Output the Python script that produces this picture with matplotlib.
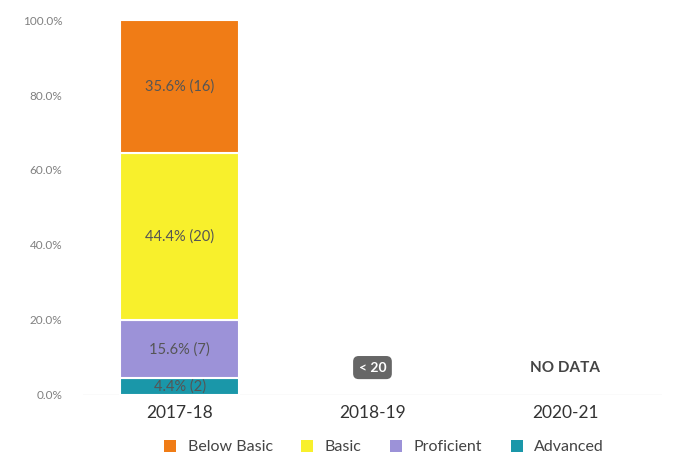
import matplotlib.pyplot as plt
from matplotlib.patches import Patch

plt.rcParams['font.family'] = ['Lato', 'DejaVu Sans']

# Data
years = ["2017-18", "2018-19", "2020-21"]
levels = ["Below Basic", "Basic", "Proficient", "Advanced"]
pct_2017 = [35.6, 44.4, 15.6, 4.4]
counts_2017 = [16, 20, 7, 2]
notes = [None, "< 20", "NO DATA"]

colors = {
    "Below Basic": "#F07C16",
    "Basic": "#F8F02C",
    "Proficient": "#9C92D8",
    "Advanced": "#1A97A9",
}

fig = plt.figure(figsize=(6.76, 4.55), dpi=100)
ax = fig.add_axes([0.123, 0.132, 0.856, 0.824])

# stack from bottom: Advanced, Proficient, Basic, Below Basic
bottom = 0
for lvl in reversed(levels):
    i = levels.index(lvl)
    v = pct_2017[i]
    ax.bar(0, v, bottom=bottom, width=0.62, color=colors[lvl],
           edgecolor="white", linewidth=1.5, zorder=2)
    ax.text(0, bottom + v / 2, f"{v:.1f}% ({counts_2017[i]})",
            ha="center", va="center", fontsize=10.5, color="#555555", zorder=3)
    bottom += v

# notes for other years
ax.text(1, 7.3, notes[1], ha="center", va="center", fontsize=10,
        color="white", fontweight="bold",
        bbox=dict(boxstyle="round,pad=0.4", facecolor="#666666", edgecolor="none"))
ax.text(2, 7.3, notes[2], ha="center", va="center", fontsize=11,
        color="#444444", fontweight="bold")

ax.set_xlim(-0.5, 2.5)
ax.set_ylim(0, 100)
ax.set_yticks([0, 20, 40, 60, 80, 100])
ax.set_yticklabels([f"{t:.1f}%" for t in [0, 20, 40, 60, 80, 100]],
                   fontsize=8.5, color="#808080")
ax.set_xticks(range(len(years)))
ax.set_xticklabels(years, fontsize=12.5, color="#333333")
ax.tick_params(axis="both", length=0)
ax.tick_params(axis="y", pad=15)
ax.tick_params(axis="x", pad=7)
for s in ax.spines.values():
    s.set_visible(False)
ax.axhline(0, color="#e6e6e6", linewidth=1, zorder=1)

handles = [Patch(facecolor=colors[l], label=l) for l in levels]
fig.legend(handles=handles, loc="lower center", bbox_to_anchor=(0.568, -0.03),
           ncol=4, frameon=False, fontsize=11.5, handlelength=0.75, handleheight=0.75,
           columnspacing=1.8, handletextpad=0.7, labelcolor="#444444")

fig.savefig("out.png", dpi=100)
